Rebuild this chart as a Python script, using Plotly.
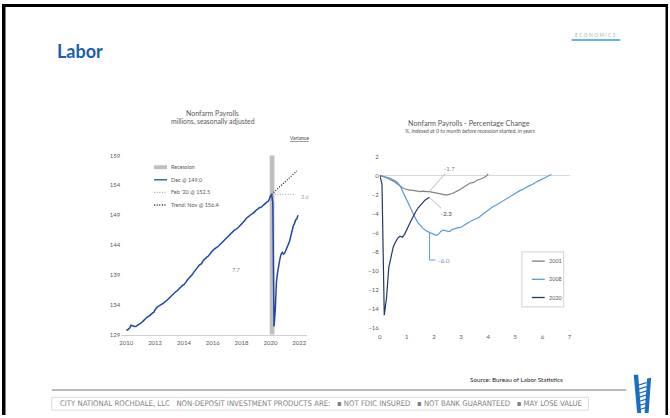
import plotly.graph_objects as go

W, H = 670, 418


def px(x):
    return x / W


def py(y):
    return 1 - y / H


# ------------------------------------------------------------------
# Nonfarm payrolls, millions, seasonally adjusted (Jan..Dec)
# ------------------------------------------------------------------
payroll_years = list(range(2010, 2022))
payrolls_2010 = [129.8, 129.8, 130.0, 130.2, 130.6, 130.5, 130.4, 130.4, 130.4, 130.6, 130.7, 130.8]
payrolls_2011 = [130.9, 131.1, 131.3, 131.6, 131.7, 131.9, 132.0, 132.1, 132.3, 132.5, 132.6, 132.8]
payrolls_2012 = [133.2, 133.5, 133.7, 133.8, 133.9, 134.0, 134.1, 134.3, 134.5, 134.6, 134.8, 135.0]
payrolls_2013 = [135.2, 135.5, 135.6, 135.8, 136.0, 136.2, 136.3, 136.5, 136.7, 136.9, 137.2, 137.3]
payrolls_2014 = [137.4, 137.6, 137.9, 138.2, 138.4, 138.7, 138.9, 139.1, 139.4, 139.7, 139.9, 140.2]
payrolls_2015 = [140.4, 140.7, 140.8, 141.0, 141.4, 141.6, 141.9, 142.0, 142.1, 142.4, 142.7, 142.9]
payrolls_2016 = [143.1, 143.3, 143.5, 143.6, 143.7, 143.9, 144.2, 144.4, 144.6, 144.8, 144.9, 145.1]
payrolls_2017 = [145.4, 145.6, 145.7, 145.9, 146.1, 146.3, 146.5, 146.6, 146.7, 146.9, 147.1, 147.3]
payrolls_2018 = [147.5, 147.8, 148.0, 148.2, 148.5, 148.6, 148.8, 149.0, 149.1, 149.3, 149.4, 149.6]
payrolls_2019 = [149.9, 150.0, 150.1, 150.3, 150.3, 150.5, 150.6, 150.8, 151.0, 151.2, 151.3, 151.6]
payrolls_2020 = [152.2, 152.5, 151.1, 130.4, 133.0, 137.8, 139.5, 141.1, 141.8, 142.5, 142.8, 142.5]
payrolls_2021 = [142.7, 143.2, 143.9, 144.2, 144.7, 145.6, 146.7, 147.2, 147.6, 148.2, 148.4, 149.0]
payrolls_by_year = [payrolls_2010, payrolls_2011, payrolls_2012, payrolls_2013, payrolls_2014,
                    payrolls_2015, payrolls_2016, payrolls_2017, payrolls_2018, payrolls_2019,
                    payrolls_2020, payrolls_2021]

recession_span = [2019.95, 2020.28]          # shaded COVID recession (years)
feb20_level = 152.5                          # pre-pandemic peak
feb20_span = [2020.30, 2021.75]
trend_x = [2020 + 1 / 12, 2021 + 10 / 12]    # Feb 2020 -> Nov 2021
trend_y = [152.5, 156.4]
dec21_level = 149.0
gap_to_feb = "3.6"
gap_to_trend = "7.7"
gap_to_trend_pos = (2017.6, 139.9)

left_yticks = [129, 134, 139, 144, 149, 154, 159]
left_xticks = [2010, 2012, 2014, 2016, 2018, 2020, 2022]

# ------------------------------------------------------------------
# Percentage change from the pre-recession month, by months elapsed
# ------------------------------------------------------------------
pct_2001 = [0, -0.05, -0.15, -0.25, -0.35, -0.5, -0.6, -0.75, -0.95, -1.15, -1.3, -1.4,
            -1.5, -1.55, -1.55, -1.6, -1.6, -1.65, -1.7, -1.65, -1.7, -1.7, -1.7, -1.75,
            -1.8, -1.85, -1.95, -2.0, -2.05, -2.05, -2.05, -2.0, -1.9, -1.8, -1.7, -1.55,
            -1.4, -1.25, -1.1, -0.95, -0.8, -0.75, -0.7, -0.5, -0.45, -0.35, -0.25, -0.1, 0.15]
pct_2008 = [0, -0.05, -0.1, -0.15, -0.25, -0.35, -0.45, -0.6, -0.8, -1.1, -1.6, -2.1,
            -2.7, -3.2, -3.7, -4.2, -4.6, -5.0, -5.3, -5.55, -5.75, -5.9, -6.0, -6.1,
            -6.2, -6.3, -6.2, -5.9, -5.75, -5.8, -5.85, -5.9, -5.7, -5.6, -5.55, -5.5,
            -5.45, -5.3, -5.1, -5.0, -4.85, -4.75, -4.65, -4.55, -4.4, -4.2, -4.0, -3.85,
            -3.6, -3.4, -3.3, -3.2, -3.05, -2.9, -2.75, -2.6, -2.45, -2.3, -2.15, -2.0,
            -1.9, -1.75, -1.6, -1.5, -1.35, -1.2, -1.1, -1.0, -0.9, -0.75, -0.6, -0.5,
            -0.4, -0.3, -0.15, 0.0, 0.1]
pct_2020 = [0, -0.9, -14.7, -12.9, -9.7, -8.6, -7.5, -7.0, -6.6, -6.4, -6.5, -6.2,
            -5.6, -5.2, -4.7, -4.2, -3.8, -3.4, -3.1, -2.9, -2.6, -2.45, -2.3]
latest_month = 22
right_yticks = [2, 0, -2, -4, -6, -8, -10, -12, -14, -16]
right_xticks = [0, 1, 2, 3, 4, 5, 6, 7]

FONT = "Lato, 'Open Sans', sans-serif"
TICK = "#595959"
BLUE = "#2146a8"
C2001, C2008, C2020 = "#808080", "#5b9bd5", "#1f3864"
DOTS = "1px,1.6px"

fig = go.Figure()

# ---- left panel: level of payrolls
pay_x, pay_y = [], []
for yr, vals in zip(payroll_years, payrolls_by_year):
    for m, v in enumerate(vals):
        pay_x.append(yr + m / 12)
        pay_y.append(v)

fig.add_shape(type="rect", xref="x", yref="y", x0=recession_span[0], x1=recession_span[1],
              y0=129, y1=159.4, fillcolor="#bfbfbf", line_width=0, layer="below")
fig.add_trace(go.Scatter(x=feb20_span, y=[feb20_level, feb20_level], mode="lines",
                         line=dict(color="#a6a6a6", width=1, dash=DOTS), xaxis="x", yaxis="y"))
fig.add_trace(go.Scatter(x=trend_x, y=trend_y, mode="lines",
                         line=dict(color="#1a1a1a", width=1.2, dash=DOTS), xaxis="x", yaxis="y"))
fig.add_trace(go.Scatter(x=pay_x, y=pay_y, mode="lines",
                         line=dict(color=BLUE, width=1.5), xaxis="x", yaxis="y"))

# ---- right panel: percentage change paths
for vals, col in [(pct_2001, C2001), (pct_2008, C2008), (pct_2020, C2020)]:
    fig.add_trace(go.Scatter(x=[m / 12 for m in range(len(vals))], y=vals, mode="lines",
                             line=dict(color=col, width=1.2), xaxis="x2", yaxis="y2"))

ann = []


def text(x, y, s, size=6, color=TICK, xanchor="center", **kw):
    ann.append(dict(x=x, y=y, text=s, showarrow=False, xanchor=xanchor, yanchor="middle",
                    font=dict(size=size, color=color, family=kw.pop("family", FONT)), **kw))


# header
text(px(53), py(48), "<b>Labor</b>", size=18, color="#1b5eb0", xanchor="left",
     xref="paper", yref="paper")
text(px(597), py(32), "E C O N O M I C S", size=5, color="#b0b0b0",
     xref="paper", yref="paper")

# left panel titles and labels
text(px(212), py(111), "Nonfarm Payrolls", size=7, xref="paper", yref="paper")
text(px(212), py(120), "millions, seasonally adjusted", size=6.8, xref="paper", yref="paper")
text(px(299), py(136), "<u>Variance</u>", size=5, color="#404040", xref="paper", yref="paper")
text(2021.95, feb20_level - 0.5, gap_to_feb, size=5.5, color="#a6a6a6", xanchor="left",
     xref="x", yref="y")
text(gap_to_trend_pos[0], gap_to_trend_pos[1], gap_to_trend, size=5.5, color="#808080",
     xref="x", yref="y")

# left legend (boxed)
leg_items = [("Recession", "bar", "#bfbfbf", None),
             ("Dec @ %.1f" % dec21_level, "line", BLUE, "solid"),
             ("Feb '20 @ %.1f" % feb20_level, "line", "#a6a6a6", DOTS),
             ("Trend: Nov @ %.1f" % trend_y[-1], "line", "#1a1a1a", DOTS)]
shapes = []
shapes.append(dict(type="rect", xref="paper", yref="paper", x0=px(129), x1=px(235),
                   y0=py(211), y1=py(161), line=dict(color="#d9d9d9", width=1)))
for i, (lab, kind, col, dash) in enumerate(leg_items):
    yy = 166 + i * 12.8
    if kind == "bar":
        shapes.append(dict(type="rect", xref="paper", yref="paper", x0=px(153), x1=px(166),
                           y0=py(yy + 2), y1=py(yy - 2), fillcolor=col, line_width=0))
    else:
        shapes.append(dict(type="line", xref="paper", yref="paper", x0=px(153), x1=px(166),
                           y0=py(yy), y1=py(yy), line=dict(color=col, width=1.3, dash=dash)))
    text(px(168), py(yy), lab, size=5.5, color="#595959", xanchor="left",
         xref="paper", yref="paper")

# right panel titles
text(px(470), py(122), "Nonfarm Payrolls - Percentage Change", size=7.2,
     xref="paper", yref="paper")
text(px(471), py(129), "<i>%, indexed at 0 to month before recession started, in years</i>",
     size=5.4, xref="paper", yref="paper")

# right panel end-point labels
t_end = latest_month / 12
ann.append(dict(x=t_end, y=pct_2001[latest_month], xref="x2", yref="y2", text="-1.7",
                showarrow=True, arrowhead=0, arrowwidth=0.8, arrowcolor="#a6a6a6",
                ax=20, ay=-23, font=dict(size=6, color="#7f7f7f", family=FONT)))
ann.append(dict(x=t_end, y=pct_2020[latest_month], xref="x2", yref="y2", text="-2.3",
                showarrow=True, arrowhead=0, arrowwidth=0.8, arrowcolor="#a6a6a6",
                ax=17, ay=16, font=dict(size=6, color="#404040", family=FONT)))
label_y08 = -8.9
shapes.append(dict(type="path", xref="x2", yref="y2",
                   path="M %f,%f L %f,%f L %f,%f" % (t_end, pct_2008[latest_month], t_end,
                                                     label_y08, t_end + 0.22, label_y08),
                   line=dict(color=C2008, width=1)))
text(t_end + 0.25, label_y08, "-6.0", size=6.5, color=C2008, xanchor="left",
     xref="x2", yref="y2")

# right legend (boxed)
shapes.append(dict(type="rect", xref="paper", yref="paper", x0=px(523), x1=px(565),
                   y0=py(308), y1=py(252), line=dict(color="#d9d9d9", width=1.2)))
for i, (lab, col) in enumerate([("2001", C2001), ("2008", C2008), ("2020", C2020)]):
    yy = 261.5 + i * 18.5
    shapes.append(dict(type="line", xref="paper", yref="paper", x0=px(533), x1=px(546),
                       y0=py(yy), y1=py(yy), line=dict(color=col, width=1.3)))
    text(px(548), py(yy), lab, size=5.5, color="#595959", xanchor="left",
         xref="paper", yref="paper")

# footer
text(px(566), py(382), "Source: Bureau of Labor Statistics", size=6.3, color="#262626",
     xanchor="right", xref="paper", yref="paper")
shapes.append(dict(type="line", xref="paper", yref="paper", x0=px(50), x1=px(628),
                   y0=py(392.5), y1=py(392.5), line=dict(color="#a6a6a6", width=1.5)))
shapes.append(dict(type="rect", xref="paper", yref="paper", x0=px(50), x1=px(590),
                   y0=py(413), y1=py(400), line=dict(color="#d9d9d9", width=1)))
text(px(321), py(406.5),
     "CITY NATIONAL ROCHDALE, LLC&nbsp;&nbsp;&nbsp;NON-DEPOSIT INVESTMENT PRODUCTS ARE:&nbsp;&nbsp;&nbsp;"
     "\u25aa NOT FDIC INSURED&nbsp;&nbsp;&nbsp;\u25aa NOT BANK GUARANTEED&nbsp;&nbsp;&nbsp;\u25aa MAY LOSE VALUE",
     size=7.7, color="#7f7f7f", xref="paper", yref="paper",
     family="'Liberation Sans Narrow', 'DejaVu Sans Condensed', Roboto, sans-serif")

# header underline and frame
shapes.append(dict(type="line", xref="paper", yref="paper", x0=px(573), x1=px(622),
                   y0=py(36.5), y1=py(36.5), line=dict(color="#2aa0dc", width=1.5)))
for x0, x1, y0, y1 in [(0, 670, 0, 3), (0, 3.5, 0, 418), (667.5, 670, 0, 418)]:
    shapes.append(dict(type="rect", xref="paper", yref="paper", x0=px(x0), x1=px(x1),
                       y0=py(y1), y1=py(y0), fillcolor="#000000", line_width=0))

# ladder mark
LOGO = "#1b6ec2"


def ppath(points):
    return "M " + " L ".join("%f,%f" % (px(a), py(b)) for a, b in points) + " Z"


shapes.append(dict(type="path", xref="paper", yref="paper",
                   path=ppath([(635.5, 377), (640, 377), (643, 416), (639, 416)]),
                   fillcolor=LOGO, line_width=0))
shapes.append(dict(type="path", xref="paper", yref="paper",
                   path=ppath([(649, 381), (653, 380), (650.5, 416), (646.5, 416)]),
                   fillcolor=LOGO, line_width=0))
for r in range(7):
    yy = 386 + r * 4.2
    shapes.append(dict(type="line", xref="paper", yref="paper", x0=px(640.5), x1=px(648.5),
                       y0=py(yy + 1.5), y1=py(yy - 1), line=dict(color=LOGO, width=1.2)))

fig.update_layout(
    width=W, height=H, margin=dict(l=0, r=0, t=0, b=0),
    paper_bgcolor="white", plot_bgcolor="white", showlegend=False,
    font=dict(family=FONT, color=TICK),
    xaxis=dict(domain=[px(120), px(307)], range=[2009.655, 2022.55], tickvals=left_xticks,
               showgrid=False, zeroline=False, showline=True, linecolor="#d0d0d0", linewidth=1,
               ticks="", ticklabelstandoff=2, tickfont=dict(size=6, color=TICK), anchor="y"),
    yaxis=dict(domain=[py(336.5), py(154)], range=[129, 159], tickvals=left_yticks,
               showgrid=False, zeroline=False, showline=False, ticks="",
               tickfont=dict(size=6, color=TICK), anchor="x"),
    xaxis2=dict(domain=[px(380), px(571)], range=[0, 7], tickvals=right_xticks,
                showgrid=False, zeroline=False, showline=False, ticks="", ticklabelstandoff=5,
                tickfont=dict(size=6, color=TICK), anchor="y2"),
    yaxis2=dict(domain=[py(329), py(155)], range=[-16, 2], tickvals=right_yticks,
                showgrid=False, zeroline=True, zerolinecolor="#d9d9d9", zerolinewidth=1,
                showline=False, ticks="", tickfont=dict(size=6, color=TICK), anchor="x2"),
    annotations=ann, shapes=shapes,
)

fig.write_html("out.html")
